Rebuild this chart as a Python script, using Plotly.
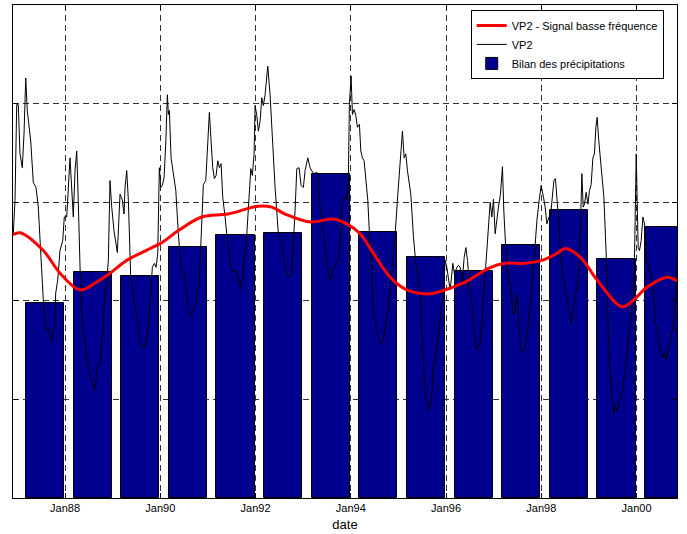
import plotly.graph_objects as go

# ---- data (decimal years / values) ----
bar_t = [1987.58, 1988.58, 1989.58, 1990.58, 1991.58, 1992.58, 1993.58,
         1994.58, 1995.58, 1996.58, 1997.58, 1998.58, 1999.58, 2000.58]
bar_v = [1.98, 2.29, 2.25, 2.55, 2.67, 2.69, 3.29, 2.70, 2.44, 2.30, 2.57, 2.92, 2.42, 2.75]

lf_t = [1986.908, 1987.055, 1987.544, 1987.895, 1988.315, 1988.666, 1988.945, 1989.296,
        1989.785, 1990.031, 1990.373, 1990.871, 1991.424, 1992.054, 1992.342, 1992.621,
        1993.146, 1993.635, 1993.917, 1994.196, 1994.476, 1994.826, 1995.177, 1995.631,
        1995.912, 1996.401, 1996.891, 1997.242, 1997.662, 1998.013, 1998.292, 1998.508,
        1998.823, 1999.174, 1999.699, 1999.945, 2000.224, 2000.644, 2000.896]
lf_v = [2.67, 2.69, 2.51, 2.28, 2.11, 2.19, 2.28, 2.41,
        2.53, 2.59, 2.71, 2.85, 2.88, 2.96, 2.95, 2.88,
        2.80, 2.83, 2.78, 2.68, 2.48, 2.24, 2.11, 2.07,
        2.10, 2.19, 2.33, 2.38, 2.38, 2.41, 2.47, 2.53,
        2.44, 2.21, 1.94, 2.01, 2.14, 2.24, 2.19]

vp2_t = [1986.914, 1986.950, 1986.986, 1987.019, 1987.055, 1987.103, 1987.139, 1987.175, 1987.208, 1987.250,
         1987.280, 1987.334, 1987.391, 1987.439, 1987.511, 1987.544, 1987.601, 1987.649, 1987.721, 1987.775,
         1987.805, 1987.847, 1987.895, 1987.952, 1987.985, 1988.036, 1988.105, 1988.141, 1988.174, 1988.210,
         1988.246, 1988.280, 1988.330, 1988.384, 1988.441, 1988.489, 1988.561, 1988.630, 1988.679, 1988.735,
         1988.792, 1988.840, 1988.876, 1988.910, 1988.945, 1988.981, 1989.029, 1989.099, 1989.155, 1989.204,
         1989.239, 1989.260, 1989.296, 1989.330, 1989.380, 1989.450, 1989.506, 1989.575, 1989.645, 1989.716,
         1989.750, 1989.834, 1989.876, 1989.912, 1989.947, 1989.981, 1990.010, 1990.044, 1990.080, 1990.115,
         1990.149, 1990.170, 1990.191, 1990.227, 1990.275, 1990.326, 1990.380, 1990.437, 1990.506, 1990.557,
         1990.590, 1990.647, 1990.695, 1990.746, 1990.779, 1990.815, 1990.857, 1990.905, 1990.956, 1990.977,
         1991.010, 1991.031, 1991.067, 1991.102, 1991.136, 1991.172, 1991.207, 1991.241, 1991.277, 1991.312,
         1991.361, 1991.430, 1991.487, 1991.544, 1991.592, 1991.640, 1991.691, 1991.733, 1991.760, 1991.796,
         1991.850, 1991.901, 1991.934, 1991.970, 1991.991, 1992.027, 1992.060, 1992.096, 1992.131, 1992.165,
         1992.201, 1992.257, 1992.306, 1992.354, 1992.411, 1992.480, 1992.552, 1992.621, 1992.690, 1992.762,
         1992.795, 1992.831, 1992.867, 1992.915, 1992.957, 1993.005, 1993.041, 1993.098, 1993.146, 1993.182,
         1993.215, 1993.287, 1993.320, 1993.356, 1993.405, 1993.461, 1993.510, 1993.566, 1993.615, 1993.650,
         1993.692, 1993.741, 1993.776, 1993.812, 1993.846, 1993.881, 1993.917, 1993.950, 1993.971, 1994.007,
         1994.035, 1994.070, 1994.106, 1994.140, 1994.182, 1994.211, 1994.245, 1994.280, 1994.322, 1994.358,
         1994.392, 1994.442, 1994.463, 1994.497, 1994.547, 1994.616, 1994.686, 1994.736, 1994.791, 1994.862,
         1994.932, 1994.988, 1995.037, 1995.085, 1995.121, 1995.156, 1995.190, 1995.226, 1995.261, 1995.316,
         1995.373, 1995.421, 1995.457, 1995.492, 1995.526, 1995.561, 1995.597, 1995.645, 1995.702, 1995.736,
         1995.786, 1995.828, 1995.877, 1995.912, 1995.946, 1995.981, 1996.017, 1996.051, 1996.087, 1996.122,
         1996.143, 1996.177, 1996.228, 1996.261, 1996.297, 1996.333, 1996.381, 1996.417, 1996.451, 1996.493,
         1996.528, 1996.577, 1996.627, 1996.681, 1996.717, 1996.752, 1996.786, 1996.837, 1996.879, 1996.927,
         1996.962, 1996.996, 1997.032, 1997.067, 1997.101, 1997.143, 1997.185, 1997.214, 1997.256, 1997.311,
         1997.368, 1997.403, 1997.437, 1997.487, 1997.521, 1997.571, 1997.605, 1997.662, 1997.710, 1997.752,
         1997.803, 1997.858, 1997.908, 1997.956, 1997.998, 1998.047, 1998.082, 1998.118, 1998.160, 1998.193,
         1998.229, 1998.265, 1998.298, 1998.334, 1998.370, 1998.403, 1998.439, 1998.487, 1998.544, 1998.600,
         1998.628, 1998.670, 1998.719, 1998.769, 1998.803, 1998.832, 1998.853, 1998.880, 1998.908, 1998.943,
         1998.979, 1999.013, 1999.048, 1999.084, 1999.117, 1999.147, 1999.174, 1999.201, 1999.231, 1999.273,
         1999.315, 1999.348, 1999.384, 1999.405, 1999.441, 1999.489, 1999.525, 1999.559, 1999.594, 1999.630,
         1999.678, 1999.735, 1999.790, 1999.840, 1999.888, 1999.930, 1999.958, 1999.979, 1999.994, 2000.014,
         2000.035, 2000.062, 2000.098, 2000.134, 2000.168, 2000.197, 2000.224, 2000.260, 2000.309, 2000.351,
         2000.399, 2000.435, 2000.470, 2000.504, 2000.554, 2000.588, 2000.623, 2000.665, 2000.714, 2000.770,
         2000.819, 2000.855, 2000.897]
vp2_v = [2.68, 3.02, 3.99, 3.99, 3.49, 3.35, 3.69, 4.26, 3.93, 3.78,
         3.62, 3.20, 3.15, 2.95, 2.34, 2.01, 1.70, 1.72, 1.58, 1.74,
         2.08, 2.21, 2.51, 2.61, 2.85, 2.85, 3.45, 3.09, 2.85, 3.32,
         3.52, 2.99, 2.08, 1.67, 1.53, 1.33, 1.18, 1.10, 1.33, 1.38,
         1.67, 2.11, 2.19, 2.41, 3.22, 2.95, 2.71, 2.49, 3.08, 3.02,
         2.88, 3.15, 3.32, 3.02, 2.24, 2.01, 1.84, 1.57, 1.52, 1.62,
         1.74, 2.34, 2.38, 2.34, 2.48, 3.35, 3.15, 3.17, 3.25, 3.59,
         4.09, 3.89, 3.93, 3.45, 3.27, 3.12, 2.68, 2.33, 2.27, 2.07,
         1.92, 1.85, 1.92, 1.95, 2.12, 2.14, 2.56, 3.18, 3.22, 3.42,
         3.76, 3.91, 3.62, 3.35, 3.24, 3.27, 3.42, 3.35, 3.39, 3.05,
         2.85, 2.51, 2.33, 2.29, 2.31, 2.21, 2.12, 2.27, 2.44, 2.51,
         2.98, 3.34, 3.27, 3.49, 3.98, 3.88, 3.72, 3.82, 4.06, 3.98,
         4.09, 4.38, 4.09, 3.59, 3.15, 2.68, 2.58, 2.34, 2.24, 2.27,
         2.54, 2.92, 3.34, 3.35, 3.17, 3.15, 3.32, 3.45, 3.35, 3.32,
         3.29, 3.30, 3.29, 2.92, 2.81, 2.54, 2.34, 2.21, 2.31, 2.33,
         2.38, 2.41, 2.56, 2.98, 3.00, 3.05, 3.02, 3.25, 3.99, 4.28,
         3.89, 3.94, 3.88, 3.76, 3.79, 3.52, 3.45, 3.42, 3.15, 3.02,
         2.68, 2.34, 1.94, 1.87, 1.70, 1.57, 1.60, 1.77, 1.90, 2.27,
         2.68, 3.08, 3.45, 3.72, 3.45, 3.49, 3.32, 3.20, 3.08, 2.65,
         2.34, 2.24, 2.07, 1.74, 1.30, 1.03, 0.99, 0.89, 1.06, 1.36,
         1.43, 1.63, 1.87, 1.97, 2.04, 2.41, 2.34, 2.24, 2.11, 2.27,
         2.38, 2.27, 2.34, 2.36, 2.34, 2.14, 2.44, 2.54, 2.41, 2.14,
         2.07, 1.77, 1.50, 1.53, 1.57, 1.77, 2.01, 2.41, 2.75, 3.00,
         2.85, 3.03, 2.68, 2.85, 2.95, 3.08, 3.36, 2.91, 2.51, 2.24,
         2.14, 1.87, 1.87, 2.07, 1.80, 1.50, 1.47, 1.53, 1.67, 1.87,
         2.14, 2.48, 2.81, 3.02, 3.17, 3.05, 2.95, 2.78, 2.85, 2.85,
         3.02, 3.22, 3.24, 3.02, 2.78, 2.48, 2.31, 2.17, 1.97, 1.90,
         1.77, 1.90, 2.07, 2.21, 2.41, 2.95, 3.29, 2.95, 2.98, 3.10,
         2.98, 3.12, 3.18, 3.45, 3.49, 3.76, 3.86, 3.66, 3.49, 3.29,
         3.05, 2.65, 2.21, 1.67, 1.30, 0.99, 0.86, 0.93, 0.89, 0.96,
         1.03, 1.20, 1.40, 1.67, 1.87, 2.07, 2.44, 3.02, 3.49, 3.02,
         2.54, 2.51, 2.61, 2.85, 2.78, 2.54, 2.38, 2.34, 2.24, 2.11,
         1.77, 1.74, 1.57, 1.50, 1.43, 1.47, 1.40, 1.50, 1.60, 1.74,
         2.01, 2.41, 2.65]

tick_vals = [1988, 1990, 1992, 1994, 1996, 1998, 2000]
tick_text = ["Jan88", "Jan90", "Jan92", "Jan94", "Jan96", "Jan98", "Jan00"]

FONT = "Liberation Sans, Arial, Helvetica, sans-serif"

fig = go.Figure()
fig.add_trace(go.Bar(
    x=bar_t, y=bar_v, width=0.8, name="Bilan des précipitations",
    marker=dict(color="#00008F", line=dict(color="black", width=1)),
    legendrank=3,
))
fig.add_trace(go.Scatter(
    x=vp2_t, y=vp2_v, mode="lines", name="VP2",
    line=dict(color="black", width=1), legendrank=2,
))
fig.add_trace(go.Scatter(
    x=lf_t, y=lf_v, mode="lines", name="VP2 - Signal basse fréquence",
    line=dict(color="red", width=3, shape="spline"), legendrank=1,
))

axis_common = dict(
    showline=True, linecolor="black", linewidth=1, mirror="ticks",
    ticks="inside", ticklen=5, tickcolor="black",
    showgrid=True, gridcolor="#333333", gridwidth=1, griddash="6px,4px",
    zeroline=False,
)
fig.update_xaxes(
    range=[1986.908, 2000.85], tickmode="array", tickvals=tick_vals, ticktext=tick_text,
    tickfont=dict(family=FONT, size=11, color="black"),
    title=dict(text="date", font=dict(family=FONT, size=13, color="black"), standoff=6),
    **axis_common,
)
fig.update_yaxes(
    range=[0, 5], tickmode="array", tickvals=[0, 1, 2, 3, 4, 5], showticklabels=False,
    **axis_common,
)
fig.update_layout(
    width=687, height=534,
    margin=dict(l=13, r=10, t=5, b=36),
    paper_bgcolor="white", plot_bgcolor="white",
    bargap=0,
    showlegend=True,
    legend=dict(
        x=0.980, y=0.990, xanchor="right", yanchor="top",
        bgcolor="white", bordercolor="black", borderwidth=1,
        font=dict(family=FONT, size=11, color="black"),
        tracegroupgap=0, itemwidth=30,
    ),
    font=dict(family=FONT, color="black"),
)
fig.write_html("out.html", config={"displayModeBar": False},
               post_script="document.body.style.margin='0';")
